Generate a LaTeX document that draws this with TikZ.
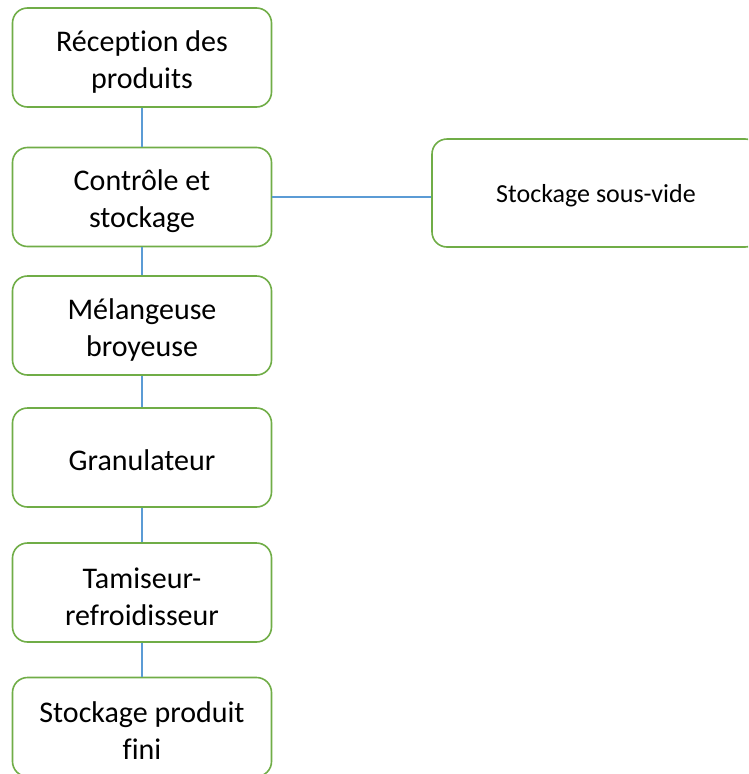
\documentclass[tikz,border=0pt]{standalone}
\usepackage{fontspec}
\setmainfont{Carlito}[Ligatures={NoCommon}]
\definecolor{boxgreen}{HTML}{70AD47}
\definecolor{lineblue}{HTML}{5B9BD5}
\begin{document}
\begin{tikzpicture}[x=1pt,y=-1pt,
  stepbox/.style={draw=boxgreen,line width=1.6pt,rounded corners=15pt,fill=white,
    minimum width=259pt,minimum height=99pt,inner sep=0pt},
  sidebox/.style={stepbox,minimum width=328pt,minimum height=108pt},
  steptext/.style={align=center,inner sep=0pt,font=\fontsize{30}{37}\selectfont},
  sidetext/.style={align=center,inner sep=0pt,font=\fontsize{26}{30}\selectfont},
  link/.style={draw=lineblue,line width=1.4pt}]
\useasboundingbox (0,0) rectangle (748,774);
\clip (0,0) rectangle (748,774);
\node[stepbox] (b1) at (142,57.5) {};
\node[stepbox] (b2) at (142,197) {};
\node[stepbox] (b3) at (142,325.5) {};
\node[stepbox] (b4) at (142,457.5) {};
\node[stepbox] (b5) at (142,592.5) {};
\node[stepbox] (b6) at (142,727) {};
\node[sidebox] (s) at (596,193) {};
\node[steptext] (t1) at ([yshift=-4pt]b1.center) {Réception des\\produits};
\node[steptext] (t2) at ([yshift=-4pt]b2.center) {Contrôle et\\stockage};
\node[steptext] (t3) at ([yshift=-4pt]b3.center) {Mélangeuse\\broyeuse};
\node[steptext] (t4) at ([yshift=-3pt]b4.center) {Granulateur};
\node[steptext] (t5) at ([yshift=-4pt]b5.center) {Tamiseur-\\refroidisseur};
\node[steptext] (t6) at ([yshift=-4pt]b6.center) {Stockage produit\\fini};
\node[sidetext] (ts) at ([yshift=-3pt]s.center) {Stockage sous-vide};
\draw[link] (b1) -- (b2);
\draw[link] (b2) -- (b3);
\draw[link] (b3) -- (b4);
\draw[link] (b4) -- (b5);
\draw[link] (b5) -- (b6);
\draw[link] (b2.east) -- (b2.east -| s.west);
\end{tikzpicture}
\end{document}
